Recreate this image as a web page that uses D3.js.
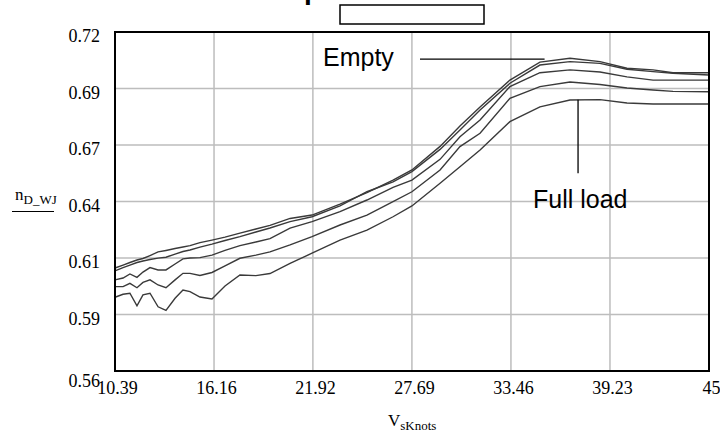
<!DOCTYPE html>
<html lang="en">
<head>
  <meta charset="UTF-8">
  <title>Waterjet efficiency</title>
  <script src="https://cdn.jsdelivr.net/npm/d3@7"></script>
  <style>
    body { margin: 0; background: #fff; }
  </style>
</head>
<body>

  <svg id="svg" width="720" height="434"></svg>

  <script>
    // ship speed in knots (shared by all five loading cases)
    const speed = [10.39, 10.86, 11.26, 11.67, 12.02, 12.43, 12.90, 13.36, 13.89, 14.35,
      14.76, 15.34, 16.04, 16.80, 17.67, 18.60, 19.42, 20.59, 21.87, 23.50,
      25.07, 26.59, 27.69, 29.33, 30.49, 31.66, 33.40, 35.15, 36.90, 38.65,
      40.22, 41.74, 42.90, 45.00]

    // efficiency per loading case, empty -> full load
    const empty = [0.6086, 0.6100, 0.6112, 0.6124, 0.6131, 0.6145, 0.6162, 0.6169, 0.6178, 0.6185,
      0.6192, 0.6206, 0.6218, 0.6232, 0.6251, 0.6270, 0.6287, 0.6320, 0.6336, 0.6388,
      0.6442, 0.6501, 0.6549, 0.6660, 0.6756, 0.6846, 0.6973, 0.7058, 0.7076, 0.7060,
      0.7029, 0.7021, 0.7008, 0.7008]
    const load25 = [0.6073, 0.6088, 0.6100, 0.6112, 0.6119, 0.6126, 0.6133, 0.6137, 0.6152, 0.6164,
      0.6171, 0.6185, 0.6199, 0.6216, 0.6234, 0.6256, 0.6275, 0.6305, 0.6328, 0.6379,
      0.6446, 0.6493, 0.6541, 0.6646, 0.6737, 0.6832, 0.6958, 0.7044, 0.7060, 0.7052,
      0.7024, 0.7013, 0.7005, 0.6997]
    const load50 = [0.6030, 0.6039, 0.6058, 0.6042, 0.6067, 0.6088, 0.6077, 0.6077, 0.6105, 0.6129,
      0.6133, 0.6135, 0.6147, 0.6169, 0.6192, 0.6209, 0.6225, 0.6274, 0.6305, 0.6352,
      0.6407, 0.6467, 0.6501, 0.6599, 0.6706, 0.6785, 0.6942, 0.7008, 0.7021, 0.7011,
      0.6988, 0.6973, 0.6973, 0.6973]
    const load75 = [0.5998, 0.5998, 0.6014, 0.5993, 0.6018, 0.6030, 0.6006, 0.5993, 0.6030, 0.6061,
      0.6061, 0.6051, 0.6065, 0.6096, 0.6132, 0.6147, 0.6162, 0.6195, 0.6234, 0.6289,
      0.6336, 0.6399, 0.6446, 0.6549, 0.6659, 0.6722, 0.6887, 0.6942, 0.6964, 0.6952,
      0.6936, 0.6926, 0.6920, 0.6918]
    const fullLoad = [0.5948, 0.5962, 0.5967, 0.5908, 0.5959, 0.5967, 0.5903, 0.5886, 0.5943, 0.5982,
      0.5975, 0.5949, 0.5940, 0.6001, 0.6053, 0.6050, 0.6060, 0.6108, 0.6156, 0.6218,
      0.6265, 0.6328, 0.6379, 0.6486, 0.6564, 0.6643, 0.6777, 0.6847, 0.6879, 0.6881,
      0.6865, 0.6860, 0.6860, 0.6860]

    // axis ticks (Mathcad style: 6 equal divisions, labels rounded)
    const xTicks = [10.39, 16.16, 21.92, 27.69, 33.46, 39.23, 45]
    const yTicks = [0.56, 0.5867, 0.6133, 0.64, 0.6667, 0.6933, 0.72]

    const series = [empty, load25, load50, load75, fullLoad]

    const margin = { top: 32, right: 11, bottom: 63, left: 115 }
    const width = 720 - margin.left - margin.right
    const height = 434 - margin.top - margin.bottom

    const x = d3.scaleLinear()
      .domain([10.39, 45])
      .range([margin.left, margin.left + width])

    const y = d3.scaleLinear()
      .domain([0.56, 0.72])
      .range([margin.top + height, margin.top])

    const svg = d3.select("#svg")

    // grid
    svg.append("g")
      .selectAll("line")
      .data(xTicks.slice(1, -1))
      .join("line")
      .attr("x1", d => x(d)).attr("x2", d => x(d))
      .attr("y1", margin.top).attr("y2", margin.top + height)
      .attr("stroke", "#bdbdbd")
      .attr("stroke-width", 1.5)

    svg.append("g")
      .selectAll("line")
      .data(yTicks.slice(1, -1))
      .join("line")
      .attr("y1", d => y(d)).attr("y2", d => y(d))
      .attr("x1", margin.left).attr("x2", margin.left + width)
      .attr("stroke", "#bdbdbd")
      .attr("stroke-width", 1.5)

    // curves
    const line = d3.line()
      .x((d, i) => x(speed[i]))
      .y(d => y(d))

    svg.append("g")
      .selectAll("path")
      .data(series)
      .join("path")
      .attr("d", d => line(d))
      .attr("fill", "none")
      .attr("stroke", "#3a3a3a")
      .attr("stroke-width", 1.4)

    // frame
    svg.append("rect")
      .attr("x", margin.left).attr("y", margin.top)
      .attr("width", width).attr("height", height)
      .attr("fill", "none")
      .attr("stroke", "#000")
      .attr("stroke-width", 2)

    // axes
    const yAxis = svg.append("g")
      .attr("transform", `translate(${margin.left - 12}, 4)`)
      .call(d3.axisLeft(y).tickValues(yTicks).tickSize(0).tickFormat(d3.format(".2f")))
    yAxis.select(".domain").remove()
    yAxis.selectAll("text")
      .attr("font-family", "Liberation Serif, Times New Roman, serif")
      .attr("font-size", 18)
      .attr("fill", "#000")
    yAxis.selectAll("text").filter(d => d === 0.56).attr("dy", "0.62em")

    const xAxis = svg.append("g")
      .attr("transform", `translate(2, ${margin.top + height + 7})`)
      .call(d3.axisBottom(x).tickValues(xTicks).tickSize(0).tickFormat(d => d))
    xAxis.select(".domain").remove()
    xAxis.selectAll("text")
      .attr("font-family", "Liberation Serif, Times New Roman, serif")
      .attr("font-size", 18)
      .attr("fill", "#000")

    // axis titles
    const yTitle = svg.append("text")
      .attr("x", 15).attr("y", 200)
      .attr("font-family", "Liberation Serif, Times New Roman, serif")
      .attr("fill", "#000")
    yTitle.append("tspan").attr("font-size", 17).text("n")
    yTitle.append("tspan").attr("font-size", 13).attr("dy", 4).text("D_WJ")
    svg.append("line")
      .attr("x1", 12).attr("x2", 54).attr("y1", 211.5).attr("y2", 211.5)
      .attr("stroke", "#000").attr("stroke-width", 1)

    const xTitle = svg.append("text")
      .attr("x", 388).attr("y", 426)
      .attr("font-family", "Liberation Serif, Times New Roman, serif")
      .attr("fill", "#000")
    xTitle.append("tspan").attr("font-size", 17).text("V")
    xTitle.append("tspan").attr("font-size", 13).attr("dy", 4).text("sKnots")

    // cut-off title and empty box above the plot
    svg.append("text")
      .attr("x", 304).attr("y", -1)
      .attr("font-family", "Liberation Sans, Arial, sans-serif")
      .attr("font-weight", "bold")
      .attr("font-size", 28)
      .text("p")
    svg.append("rect")
      .attr("x", 340).attr("y", 5)
      .attr("width", 144).attr("height", 19)
      .attr("fill", "#fff")
      .attr("stroke", "#000")
      .attr("stroke-width", 1.5)

    // annotations
    svg.append("text")
      .attr("x", 323).attr("y", 66)
      .attr("font-family", "Liberation Sans, Arial, sans-serif")
      .attr("font-size", 25)
      .text("Empty")
    svg.append("line")
      .attr("x1", 420).attr("x2", x(35.42))
      .attr("y1", y(0.7072)).attr("y2", y(0.7072))
      .attr("stroke", "#000").attr("stroke-width", 1.3)

    svg.append("text")
      .attr("x", 533).attr("y", 208)
      .attr("font-family", "Liberation Sans, Arial, sans-serif")
      .attr("font-size", 25)
      .text("Full load")
    svg.append("line")
      .attr("x1", x(37.37)).attr("x2", x(37.37))
      .attr("y1", y(0.6880)).attr("y2", y(0.6533))
      .attr("stroke", "#000").attr("stroke-width", 1.3)
  </script>
</body>
</html>
